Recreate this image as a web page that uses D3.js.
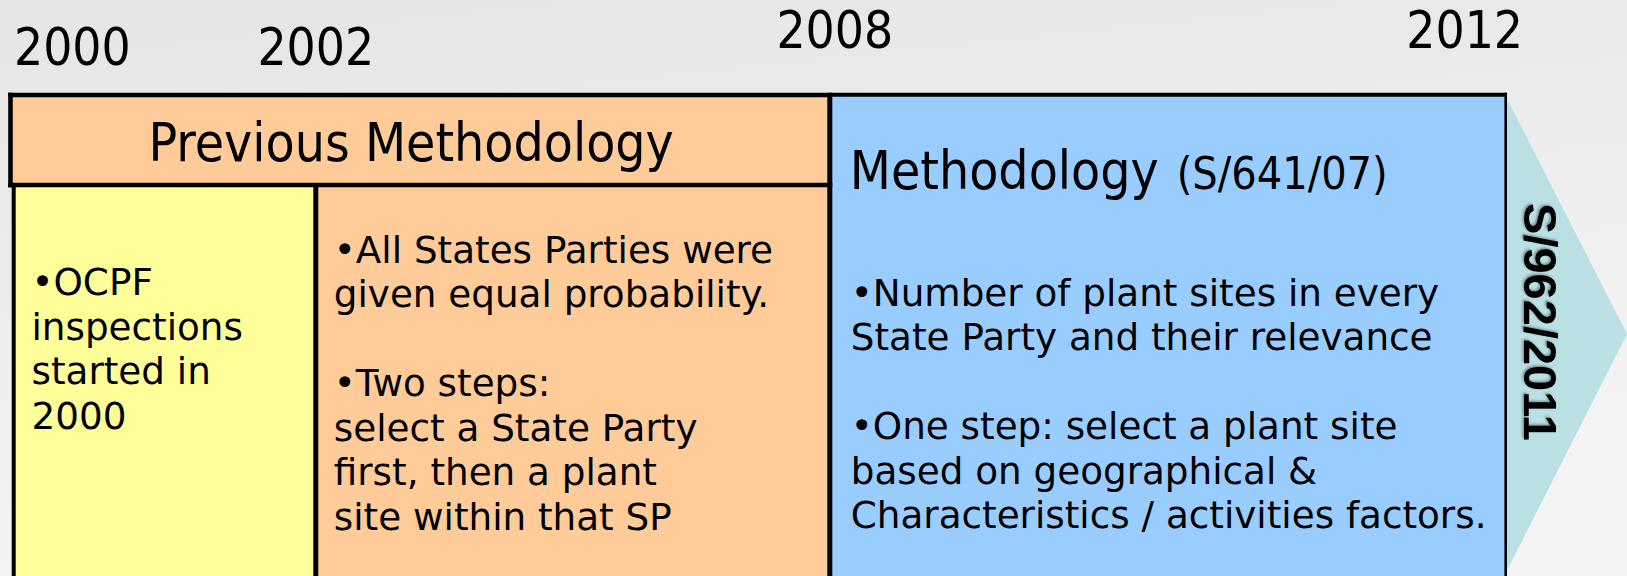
<!DOCTYPE html>
<html>
<head>
<meta charset="utf-8">
<script src="https://cdn.jsdelivr.net/npm/d3@7/dist/d3.min.js"></script>
<style>
  html, body { margin: 0; padding: 0; overflow: hidden; }
  svg { display: block; }
</style>
</head>
<body>
<svg id="chart"></svg>
<script>
'use strict';

// data
const years = [2000, 2002, 2008, 2012];
const yearLabels = ["2000", "2002", "2008", "2012"];
const headerPrev = "Previous Methodology";
const headerNew = "Methodology";
const headerNewRef = "(S/641/07)";
const arrowLabel = "S/962/2011";
const leftLines = ["•OCPF", "inspections", "started in", "2000"];
const midLines = ["•All States Parties were", "given equal probability.", "", "•Two steps:",
	"select a State Party", "first, then a plant", "site within that SP"];
const rightLines = ["•Number of plant sites in every", "State Party and their relevance", "",
	"•One step: select a plant site", "based on geographical &", "Characteristics / activities factors."];

// colours
const yellow = "#ffff99";
const orange = "#ffcc99";
const blue = "#99ccff";
const teal = "#bae0e3";

const width = 1627, height = 576;
const svg = d3.select("#chart").attr("width", width).attr("height", height);

// years are not evenly spaced on the slide, so use a piecewise scale
const x = d3.scaleLinear().domain(years).range([10.5, 315.8, 829.8, 1505.7]);
const boxTop = 95, headBottom = 185, boxBottom = height + 10;

const defs = svg.append("defs");
const bg = defs.append("linearGradient").attr("id", "bg")
	.attr("x1", 0).attr("y1", 0).attr("x2", 0.3).attr("y2", 1);
bg.append("stop").attr("offset", 0).attr("stop-color", "#e5e5e5");
bg.append("stop").attr("offset", 1).attr("stop-color", "#f4f4f4");

const shadow = defs.append("filter").attr("id", "shadow")
	.attr("x", -0.2).attr("y", -0.2).attr("width", 1.4).attr("height", 1.4);
shadow.append("feDropShadow").attr("dx", -1.5).attr("dy", 1.5)
	.attr("stdDeviation", 1.2).attr("flood-color", "#000").attr("flood-opacity", 0.35);

svg.append("rect").attr("width", width).attr("height", height).attr("fill", "url(#bg)");

// arrow head behind the blue panel
const tipY = 334;
svg.append("path")
	.attr("d", d3.line()([[x(2012), boxTop + 1], [width, tipY], [x(2012), 2 * tipY - boxTop]]))
	.attr("fill", teal);

// panel fills
svg.append("rect").attr("x", x(2008)).attr("y", boxTop)
	.attr("width", x(2012) - x(2008)).attr("height", boxBottom - boxTop).attr("fill", blue);
svg.append("rect").attr("x", x(2000)).attr("y", boxTop)
	.attr("width", x(2008) - x(2000)).attr("height", headBottom - boxTop).attr("fill", orange);
svg.append("rect").attr("x", x(2000) + 3).attr("y", headBottom)
	.attr("width", x(2002) - x(2000) - 3).attr("height", boxBottom - headBottom).attr("fill", yellow);
svg.append("rect").attr("x", x(2002)).attr("y", headBottom)
	.attr("width", x(2008) - x(2002)).attr("height", boxBottom - headBottom).attr("fill", orange);

// borders
const line = d3.line();
const borders = [
	{p: [[x(2000) - 2.3, boxTop], [x(2008), boxTop]], w: 4.6},
	{p: [[x(2008), boxTop - 0.3], [x(2012) + 1.3, boxTop - 0.3]], w: 4},
	{p: [[x(2000), boxTop - 2.3], [x(2000), headBottom + 2.3]], w: 4.6},
	{p: [[x(2000) - 2.3, headBottom], [x(2008) + 2.5, headBottom]], w: 4.6},
	{p: [[x(2000) + 3.2, headBottom], [x(2000) + 3.2, boxBottom]], w: 4},
	{p: [[x(2002), headBottom], [x(2002), boxBottom]], w: 5},
	{p: [[x(2008), boxTop - 2.3], [x(2008), boxBottom]], w: 5},
	{p: [[x(2012), boxTop - 2.3], [x(2012), boxBottom]], w: 2.6}
];
svg.append("g").selectAll("path").data(borders).join("path")
	.attr("d", d => line(d.p))
	.attr("fill", "none").attr("stroke", "#000").attr("stroke-width", d => d.w)
	.attr("stroke-linecap", "butt");

// year labels above the boundaries
const yearPlace = [
	{dx: 3.5, y: 65, anchor: "start"},
	{dx: 0, y: 65, anchor: "middle"},
	{dx: 5, y: 47.5, anchor: "middle"},
	{dx: -41, y: 47.5, anchor: "middle"}
];
const condensed = "'DejaVu Sans Condensed', 'DejaVu Sans', sans-serif";
svg.append("g").selectAll("text").data(years).join("text")
	.attr("x", (d, i) => x(d) + yearPlace[i].dx)
	.attr("y", (d, i) => yearPlace[i].y)
	.attr("text-anchor", (d, i) => yearPlace[i].anchor)
	.attr("font-family", condensed)
	.attr("font-stretch", "condensed")
	.attr("font-size", 51)
	.attr("fill", "#000")
	.text((d, i) => yearLabels[i]);

// headers
svg.append("text")
	.attr("x", (x(2000) + x(2008)) / 2 - 9).attr("y", 161)
	.attr("text-anchor", "middle")
	.attr("font-family", condensed).attr("font-stretch", "condensed")
	.attr("font-size", 53).text(headerPrev);

const newHead = svg.append("text")
	.attr("x", x(2008) + 20).attr("y", 189)
	.attr("font-family", condensed).attr("font-stretch", "condensed");
newHead.append("tspan").attr("font-size", 53).text(headerNew);
newHead.append("tspan").attr("font-size", 44.5).attr("dx", 18).text(headerNewRef);

// body text blocks
const lineH = 44.5;
const blocks = [
	{lines: leftLines, x: x(2000) + 21, y: 295},
	{lines: midLines, x: x(2002) + 18, y: 262.5},
	{lines: rightLines, x: x(2008) + 21, y: 305.5}
];
blocks.forEach(b => {
	svg.append("g").selectAll("text").data(b.lines).join("text")
		.attr("x", b.x)
		.attr("y", (d, i) => b.y + i * lineH)
		.attr("font-family", "'DejaVu Sans', Verdana, sans-serif")
		.attr("font-size", 37.3)
		.attr("fill", "#000")
		.text(d => d);
});

// rotated reference on the arrow
svg.append("text")
	.attr("transform", "translate(1541, 322) rotate(90)")
	.attr("text-anchor", "middle")
	.attr("dy", "0.36em")
	.attr("font-family", "'Liberation Sans', Arial, sans-serif")
	.attr("font-weight", "bold")
	.attr("font-size", 47)
	.attr("filter", "url(#shadow)")
	.text(arrowLabel);
</script>
</body>
</html>
